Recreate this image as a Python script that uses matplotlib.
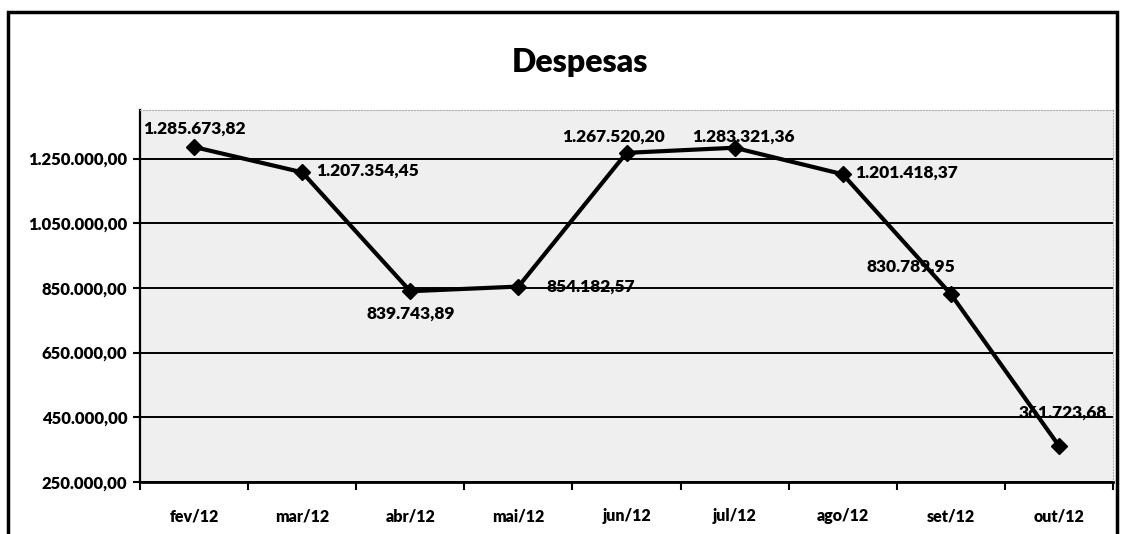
import matplotlib.pyplot as plt
from matplotlib.patches import Rectangle
from matplotlib.ticker import FixedLocator, FuncFormatter

plt.rcParams['font.family'] = ['Lato', 'DejaVu Sans']

# data
months = ['fev/12', 'mar/12', 'abr/12', 'mai/12', 'jun/12', 'jul/12', 'ago/12', 'set/12', 'out/12']
despesas = [1285673.82, 1207354.45, 839743.89, 854182.57, 1267520.20,
            1283321.36, 1201418.37, 830789.95, 361723.68]
y_ticks = [250000, 450000, 650000, 850000, 1050000, 1250000]

# label placement (offset in points, horizontal alignment)
label_pos = [((0, 13), 'center'), ((10, 1), 'left'), ((0, -16), 'center'),
             ((20, 0), 'left'), ((-9, 12), 'center'), ((6, 8), 'center'),
             ((9, 1), 'left'), ((-29, 20), 'center'), ((3, 24), 'center')]


def br(v, pos=None):
    s = f'{v:,.2f}'
    return s.replace(',', 'X').replace('.', ',').replace('X', '.')


fig = plt.figure(figsize=(11.22, 5.34), dpi=100)
ax = fig.add_axes([140 / 1122, 1 - 482 / 534, (1113 - 140) / 1122, (482 - 110) / 534])
ax.set_facecolor('#efefef')

x = list(range(len(months)))
ax.plot(x, despesas, color='black', linewidth=3, marker='D', markersize=8.5, zorder=3)

for i, v in enumerate(despesas):
    off, ha = label_pos[i]
    ax.annotate(br(v), (i, v), xytext=off, textcoords='offset points',
                ha=ha, va='center', fontsize=12.5, fontweight='heavy', zorder=4)

ax.set_xlim(-0.5, len(months) - 0.5)
ax.set_ylim(250000, 1400000)

ax.set_xticks(x)
ax.set_xticklabels(months, fontsize=11.5, fontweight='heavy')
ax.xaxis.set_minor_locator(FixedLocator([i - 0.5 for i in range(len(months) + 1)]))
ax.tick_params(axis='x', which='major', length=0, pad=19)
ax.tick_params(axis='x', which='minor', length=6, width=1.5, direction='out')

ax.yaxis.set_major_locator(FixedLocator(y_ticks))
ax.yaxis.set_major_formatter(FuncFormatter(br))
for lab in ax.get_yticklabels():
    lab.set_fontweight('heavy')
ax.tick_params(axis='y', length=5, width=1.5, labelsize=12, pad=4)
ax.grid(axis='y', color='black', linewidth=1.4)
ax.set_axisbelow(True)

ax.spines['left'].set_linewidth(1.6)
ax.spines['bottom'].set_linewidth(2)
ax.spines['top'].set_color('#b0b0b0')
ax.spines['top'].set_linestyle(':')
ax.spines['right'].set_color('#b0b0b0')
ax.spines['right'].set_linestyle(':')

fig.text(580 / 1122, 1 - 62 / 534, 'Despesas', ha='center', va='center',
         fontsize=23, fontweight='heavy')

fig.add_artist(Rectangle((8 / 1122, -0.1), (1117 - 8) / 1122, 1.1 - 12 / 534,
                         transform=fig.transFigure, fill=False,
                         edgecolor='black', linewidth=2.5))

fig.savefig('out.png', dpi=100)
